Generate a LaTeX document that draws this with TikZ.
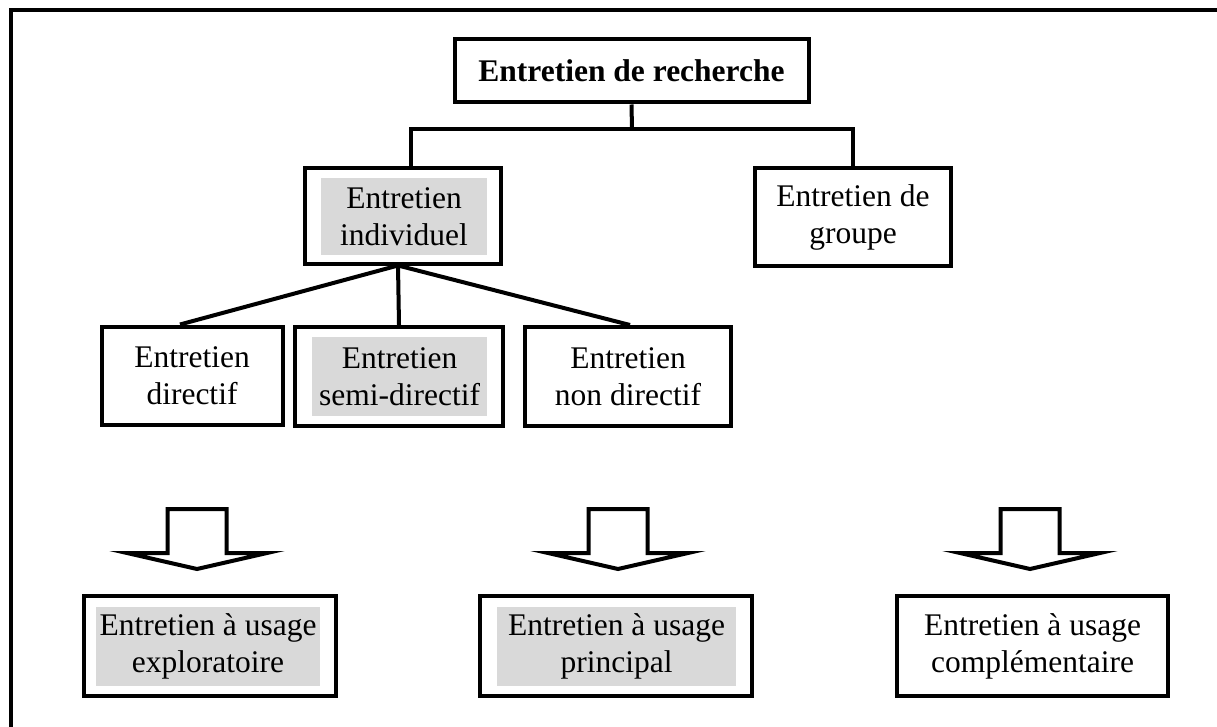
\documentclass[tikz,border=0pt]{standalone}
\usepackage{fontspec}
\setmainfont{Liberation Serif}
\definecolor{hlgray}{HTML}{D9D9D9}
\begin{document}
\begin{tikzpicture}[x=1pt,y=-1pt,
  lw/.style={line width=4pt},
  box/.style={draw, lw, inner sep=0pt, align=center, font=\fontsize{31.5}{37}\selectfont},
  hl/.style={fill=hlgray, inner sep=0pt, align=center, font=\fontsize{31.5}{37}\selectfont},
  conn/.style={lw},
  arr/.style={lw, line join=miter},
  bigarrow/.pic={\draw[arr] (-29.5,-30) -- (29.5,-30) -- (29.5,14) -- (70,14) -- (0,30) -- (-70,14) -- (-29.5,14) -- cycle;}
]
\useasboundingbox (0,0) rectangle (1217,727);
% outer frame (cut at right and bottom)
\draw[lw] (10.5,10) rectangle (1240,750);

% level 1
\node[box, minimum width=354, minimum height=63, font=\fontsize{31.5}{37}\selectfont\bfseries] (top) at (631.5,71) {Entretien de recherche};

% level 2
\node[box, minimum width=196, minimum height=95] (indiv) at (403,216) {};
\node[hl, minimum width=166, minimum height=77] (indivtxt) at (404,216.5) {Entretien\\individuel};
\node[box, minimum width=196, minimum height=98] (group) at (853,217) {Entretien de\\groupe};

% level 3
\node[box, minimum width=181, minimum height=98] (dir) at (192,375.5) {Entretien\\directif};
\node[box, minimum width=208, minimum height=99] (semi) at (399,376.5) {};
\node[hl, minimum width=175, minimum height=79] (semitxt) at (399.5,376.5) {Entretien\\semi-directif};
\node[box, minimum width=206, minimum height=99] (nondir) at (628,376.5) {Entretien\\non directif};

% level 4
\node[box, minimum width=252, minimum height=100] (explo) at (210,646) {};
\node[hl, minimum width=224, minimum height=79] (explotxt) at (208,646.5) {Entretien à usage\\exploratoire};
\node[box, minimum width=272, minimum height=100] (princ) at (616,646) {};
\node[hl, minimum width=239, minimum height=79] (princtxt) at (616.5,646.5) {Entretien à usage\\principal};
\node[box, minimum width=271, minimum height=100] (compl) at (1032.5,646) {Entretien à usage\\complémentaire};

% connectors
\coordinate (bar) at (632,129.5);
\coordinate (indivin) at ([xshift=8pt]indiv.north);
\coordinate (indivout) at ([xshift=-5pt]indiv.south);
\draw[conn] (top.south) -- (bar);
\draw[conn] (indivin) |- (bar) -| (group.north);
\draw[conn] (indivout) -- ([xshift=-12pt]dir.north);
\draw[conn] (indivout) -- (semi.north);
\draw[conn] (indivout) -- ([xshift=2pt]nondir.north);

% block arrows
\pic at (197,539) {bigarrow};
\pic at (618,539) {bigarrow};
\pic at (1030,539) {bigarrow};
\end{tikzpicture}
\end{document}
